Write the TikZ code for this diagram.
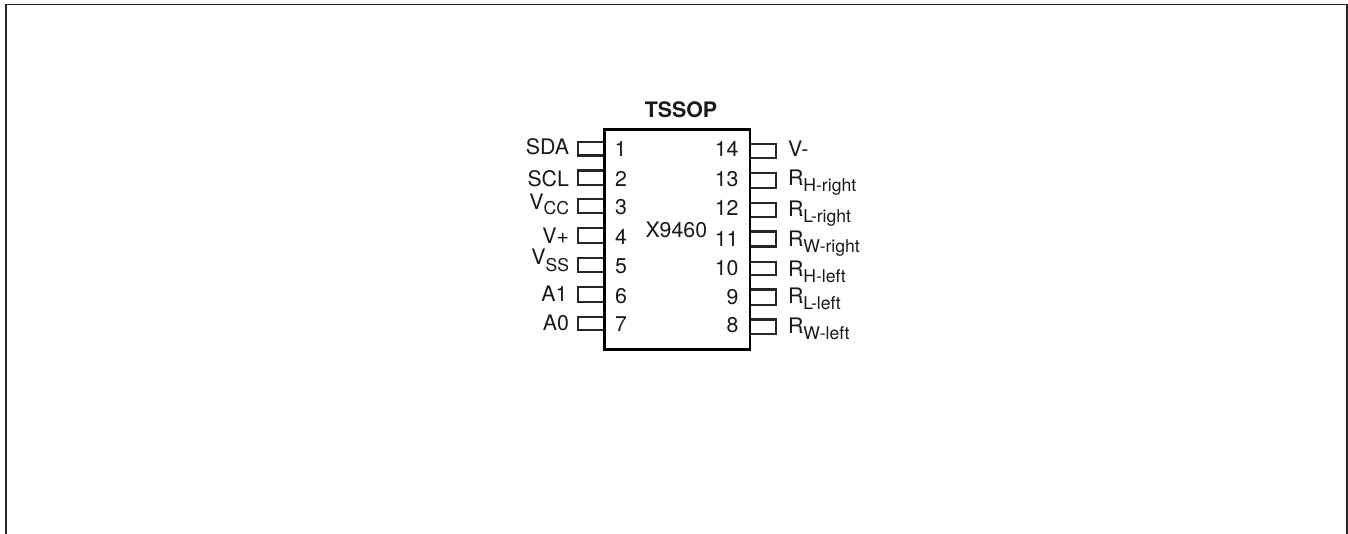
\documentclass[tikz,border=0pt]{standalone}
\usepackage{fontspec}
\setmainfont{TeX Gyre Heros}
\newcommand{\pinsub}[2][1]{\raisebox{-#1\dimexpr 0.75pt\relax}{\fontsize{13.2pt}{15pt}\selectfont #2}}
\tikzset{
  x=0.75pt,y=-0.75pt,
  txt/.style={inner sep=0pt,outer sep=0pt,yshift=-0.75pt,font=\fontsize{16pt}{18pt}\selectfont,text=black!90},
  lbl/.style={txt,anchor=base east},
  rbl/.style={txt,anchor=base west},
  num/.style={txt,anchor=base},
  pinbox/.style={draw=black!85,line width=1.6pt,line join=miter},
  chipbox/.style={draw=black,line width=1.7pt},
  frame/.style={draw=black!85,line width=1.2pt}
}
\begin{document}
\begin{tikzpicture}
\useasboundingbox (0,0) rectangle (1348,534);
\draw[frame] (6,534) -- (6,4.5) -- (1347,4.5) -- (1347,534);
% left pins
\foreach \a/\b/\n in {142/155.5/1,170.5/185/2,199/213/3,228/243/4,258/272/5,287/302/6,317/330/7}
  \draw[pinbox] (604.5,\a) -- (578,\a) -- (578,\b) -- (604.5,\b);
% right pins
\foreach \a/\b/\n in {144/158/14,173/188/13,203/217/12,231.5/246.5/11,262/275/10,289.5/305/9,319.5/334/8}
  \draw[pinbox] (750,\a) -- (776,\a) -- (776,\b) -- (750,\b);
\draw[chipbox] (604.5,129.5) rectangle (750,349.5);
\node[txt,anchor=base,font=\fontsize{16pt}{18pt}\selectfont\bfseries] (title) at (681,116.7) {TSSOP};
\node[txt,anchor=base west] (chip) at (645.5,236.7) {X9460};
% left labels
\node[lbl] (sda) at (569,153.3) {SDA};
\node[lbl] (scl) at (569,185.7) {SCL};
\node[lbl] (vcc) at (569,209) {V\pinsub[5]{CC}};
\node[lbl] (vp) at (569,242.7) {V+};
\node[lbl] (vss) at (569,264) {V\pinsub[7]{SS}};
\node[lbl] (aone) at (567.5,301) {A1};
\node[lbl] (azero) at (569,329) {A0};
% left numbers
\node[num] (n1) at (620.5,155.7) {1};
\node[num] (n2) at (621,185.7) {2};
\node[num] (n3) at (621,214) {3};
\node[num] (n4) at (621,244) {4};
\node[num] (n5) at (621,273) {5};
\node[num] (n6) at (621,303) {6};
\node[num] (n7) at (621,331) {7};
% right numbers
\node[txt,anchor=base east] (n14) at (738.5,155.5) {14};
\node[txt,anchor=base east] (n13) at (738.5,186) {13};
\node[txt,anchor=base east] (n12) at (738.5,215) {12};
\node[txt,anchor=base east] (n11) at (738.5,246) {11};
\node[txt,anchor=base east] (n10) at (738.5,274.5) {10};
\node[txt,anchor=base east] (n9) at (738.5,304) {9};
\node[txt,anchor=base east] (n8) at (738.5,331.5) {8};
% right labels
\node[rbl] (vm) at (788,155.7) {V-};
\node[rbl] (rhr) at (788,185) {R\pinsub[6]{H-right}};
\node[rbl] (rlr) at (788,216) {R\pinsub[6]{L-right}};
\node[rbl] (rwr) at (788,246) {R\pinsub[6]{W-right}};
\node[rbl] (rhl) at (788,276) {R\pinsub[6]{H-left}};
\node[rbl] (rll) at (788,303) {R\pinsub[6]{L-left}};
\node[rbl] (rwl) at (788,333) {R\pinsub[6]{W-left}};
\end{tikzpicture}
\end{document}
